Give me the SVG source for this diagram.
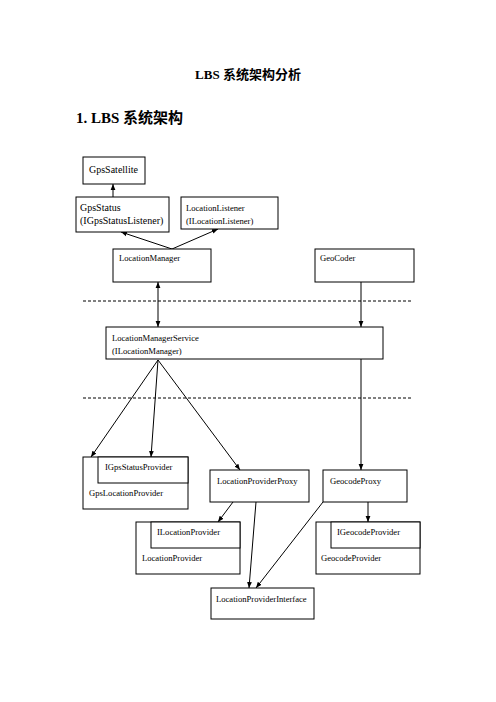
<svg xmlns="http://www.w3.org/2000/svg" width="496" height="702" viewBox="0 0 496 702">
<style>
.box{fill:#fff;stroke:#000;stroke-width:1}
.t{font-family:"Liberation Serif","Times New Roman",serif;font-size:8.6px;fill:#000}
.tl{font-family:"Liberation Serif","Times New Roman",serif;font-size:10px;fill:#000}
.h{font-family:"Liberation Serif","Noto Sans CJK SC",serif;font-weight:bold;fill:#000}
.c{stroke:#000;stroke-width:1;fill:none}
.d{stroke:#000;stroke-width:1;stroke-dasharray:3,2;fill:none}
</style>
<defs>
<marker id="ah" viewBox="0 0 10 10" refX="10" refY="5" markerWidth="6" markerHeight="6" orient="auto-start-reverse" markerUnits="userSpaceOnUse">
<path d="M0,1 L10,5 L0,9 Z" fill="#000"/>
</marker>
</defs>
<rect width="496" height="702" fill="#fff"/>
<text class="h" x="248" y="79" font-size="13" text-anchor="middle">LBS 系统架构分析</text>
<text class="h" x="76" y="123" font-size="15">1. LBS 系统架构</text>

<g id="connectors">
<line class="d" x1="83" y1="301" x2="413" y2="301"/>
<line class="d" x1="83" y1="398" x2="413" y2="398"/>
<line class="c" x1="113" y1="197" x2="113" y2="184" marker-end="url(#ah)"/>
<line class="c" x1="172" y1="249" x2="121" y2="232" marker-end="url(#ah)"/>
<line class="c" x1="172" y1="249" x2="218" y2="229" marker-end="url(#ah)"/>
<line class="c" x1="158" y1="282" x2="158" y2="327" marker-start="url(#ah)" marker-end="url(#ah)"/>
<line class="c" x1="361" y1="282" x2="361" y2="327" marker-end="url(#ah)"/>
<line class="c" x1="158" y1="360" x2="91" y2="457" marker-end="url(#ah)"/>
<line class="c" x1="158" y1="360" x2="151" y2="457" marker-end="url(#ah)"/>
<line class="c" x1="158" y1="360" x2="240" y2="470" marker-end="url(#ah)"/>
<line class="c" x1="361" y1="359" x2="361" y2="470" marker-end="url(#ah)"/>
<line class="c" x1="233" y1="502" x2="218" y2="522" marker-end="url(#ah)"/>
<line class="c" x1="256" y1="502" x2="249" y2="588" marker-end="url(#ah)"/>
<line class="c" x1="323" y1="502" x2="256" y2="588" marker-end="url(#ah)"/>
<line class="c" x1="368" y1="502" x2="368" y2="522" marker-end="url(#ah)"/>
</g>

<g id="GpsSatellite">
<rect class="box" x="83" y="157" width="62" height="27"/>
<text class="tl" x="89" y="173" font-size="9.5">GpsSatellite</text>
</g>
<g id="GpsStatus">
<rect class="box" x="76" y="197" width="93" height="35"/>
<text class="tl" x="80" y="211">GpsStatus</text>
<text class="tl" x="80" y="224">(IGpsStatusListener)</text>
</g>
<g id="LocationListener">
<rect class="box" x="181" y="197" width="97" height="32"/>
<text class="t" x="186" y="211">LocationListener</text>
<text class="t" x="186" y="224">(ILocationListener)</text>
</g>
<g id="LocationManager">
<rect class="box" x="113" y="249" width="98" height="33"/>
<text class="t" x="119" y="261">LocationManager</text>
</g>
<g id="GeoCoder">
<rect class="box" x="315" y="249" width="99" height="33"/>
<text class="t" x="320" y="261">GeoCoder</text>
</g>
<g id="LocationManagerService">
<rect class="box" x="106" y="327" width="277" height="32"/>
<text class="t" x="112" y="341">LocationManagerService</text>
<text class="t" x="112" y="354">(ILocationManager)</text>
</g>
<g id="GpsLocationProvider">
<rect class="box" x="83" y="457" width="105" height="52"/>
<rect class="box" x="98" y="457" width="90" height="26"/>
<text class="t" x="105" y="470">IGpsStatusProvider</text>
<text class="t" x="89" y="496">GpsLocationProvider</text>
</g>
<g id="LocationProviderProxy">
<rect class="box" x="210" y="470" width="99" height="32"/>
<text class="t" x="217" y="484">LocationProviderProxy</text>
</g>
<g id="GeocodeProxy">
<rect class="box" x="323" y="470" width="84" height="32"/>
<text class="t" x="330" y="484">GeocodeProxy</text>
</g>
<g id="LocationProvider">
<rect class="box" x="136" y="522" width="104" height="52"/>
<rect class="box" x="151" y="522" width="89" height="26"/>
<text class="t" x="157" y="535">ILocationProvider</text>
<text class="t" x="142" y="561">LocationProvider</text>
</g>
<g id="GeocodeProvider">
<rect class="box" x="316" y="522" width="104" height="52"/>
<rect class="box" x="331" y="522" width="89" height="26"/>
<text class="t" x="337" y="535">IGeocodeProvider</text>
<text class="t" x="321" y="561">GeocodeProvider</text>
</g>
<g id="LocationProviderInterface">
<rect class="box" x="211" y="588" width="103" height="31"/>
<text class="t" x="216" y="602">LocationProviderInterface</text>
</g>
</svg>
